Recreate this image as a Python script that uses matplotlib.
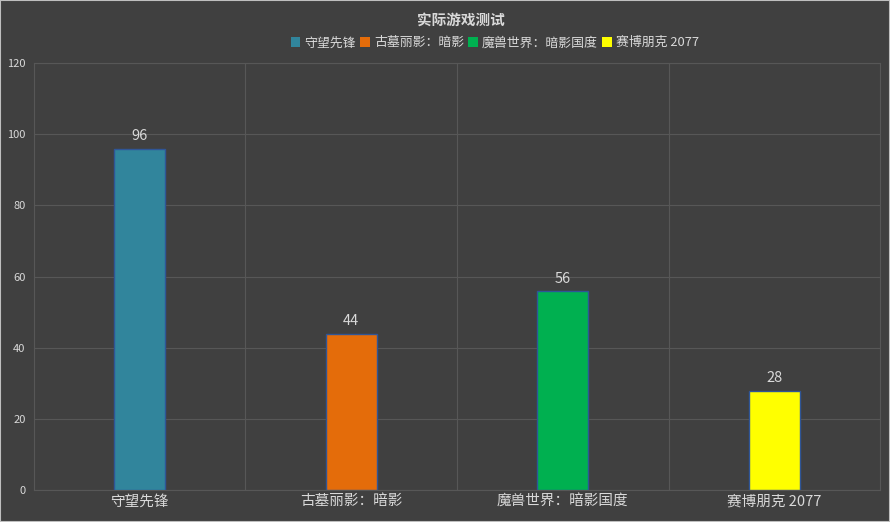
import matplotlib
matplotlib.use("Agg")
import matplotlib.pyplot as plt
from matplotlib.patches import Patch

plt.rcParams["font.family"] = ["Noto Sans CJK SC", "DejaVu Sans"]

games = ["守望先锋", "古墓丽影：暗影", "魔兽世界：暗影国度", "赛博朋克 2077"]
fps = [96, 44, 56, 28]
colors = ["#31859c", "#e46c0a", "#00b050", "#ffff00"]

BG = "#404040"
GRID = "#575757"
TEXT = "#d9d9d9"

fig = plt.figure(figsize=(8.9, 5.22), dpi=100, facecolor=BG)
ax = fig.add_axes([0.038, 0.061, 0.951, 0.818], facecolor=BG)

x = range(len(games))
bars = ax.bar(x, fps, width=0.24, color=colors, edgecolor="#2f5597", linewidth=1.0, zorder=3)
for b, v in zip(bars, fps):
    ax.text(b.get_x() + b.get_width() / 2, v + 1.5, str(v), ha="center", va="bottom",
            color=TEXT, fontsize=10.5)

ax.set_xlim(-0.5, len(games) - 0.5)
ax.set_ylim(0, 120)
ax.set_yticks(range(0, 121, 20))
ax.set_xticks(list(x))
ax.set_xticklabels(games, fontsize=10.5, color=TEXT)
ax.tick_params(axis="y", labelsize=8, colors=TEXT, length=0, pad=6)
ax.tick_params(axis="x", length=0, pad=3)
ax.yaxis.grid(True, color=GRID, linewidth=0.8, zorder=0)
for xv in [0.5, 1.5, 2.5]:
    ax.axvline(xv, color=GRID, linewidth=0.8, zorder=0)
for s in ax.spines.values():
    s.set_color(GRID)
    s.set_linewidth(0.8)

fig.text(0.518, 0.963, "实际游戏测试", ha="center", va="center", color=TEXT,
         fontsize=10.5, fontweight="bold")
handles = [Patch(facecolor=c, edgecolor="none") for c in colors]
fig.legend(handles, games, loc="center", bbox_to_anchor=(0.556, 0.918), ncol=4,
           frameon=False, fontsize=9.3, labelcolor=TEXT, handlelength=0.75, handleheight=0.75,
           handletextpad=0.3, columnspacing=0.35)

fig.patches.append(plt.Rectangle((0, 0), 1, 1, transform=fig.transFigure, fill=False,
                                 edgecolor="#bfbfbf", linewidth=1.5))
fig.savefig("out.png", dpi=100, facecolor=BG)
